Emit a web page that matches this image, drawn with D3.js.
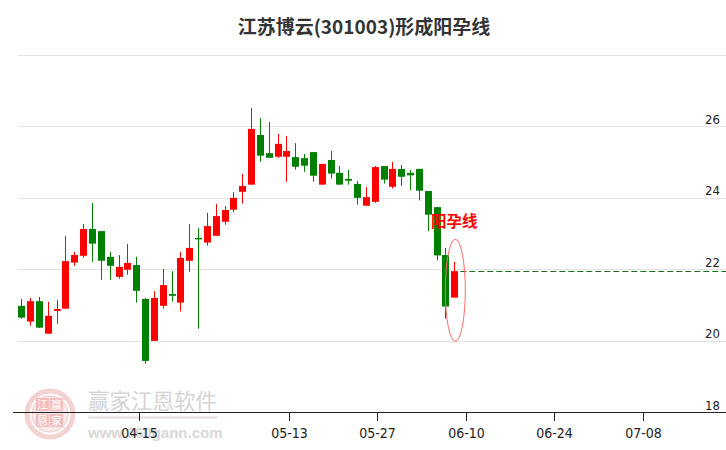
<!DOCTYPE html>
<html>
<head>
<meta charset="utf-8">
<script src="https://cdn.jsdelivr.net/npm/d3@7/dist/d3.min.js"></script>
<style>
html,body{margin:0;padding:0;background:#fff;}
svg{display:block;}
</style>
</head>
<body>
<div id="chart"></div>
<script>
// ---- data ----
const dates = ["03-25","03-26","03-27","03-28","03-29","04-01","04-02","04-03","04-08","04-09",
  "04-10","04-11","04-12","04-15","04-16","04-17","04-18","04-19","04-22","04-23",
  "04-24","04-25","04-26","04-29","04-30","05-06","05-07","05-08","05-09","05-10",
  "05-13","05-14","05-15","05-16","05-17","05-20","05-21","05-22","05-23","05-24",
  "05-27","05-28","05-29","05-30","05-31","06-03","06-04","06-05","06-06","06-07"];
const open  = [20.97,20.53,21.10,20.19,20.83,20.89,22.18,22.37,23.12,23.06,
  22.34,21.78,21.98,22.11,21.16,19.99,20.97,21.30,21.06,22.23,
  22.87,22.74,22.93,23.32,23.66,24.16,24.36,25.75,25.24,25.14,
  25.14,25.13,25.10,25.27,24.36,25.05,24.69,24.52,24.38,23.77,
  23.88,24.88,24.30,24.80,24.69,24.80,24.18,23.73,22.39,21.20];
const close = [20.64,21.10,20.36,20.69,20.88,22.22,22.39,23.12,22.71,22.23,
  22.09,22.06,22.17,21.39,19.43,21.19,21.55,21.25,22.31,22.59,
  22.84,23.20,23.48,23.65,23.99,24.32,25.92,25.17,25.11,25.50,
  25.30,24.86,24.89,24.61,24.94,24.67,24.36,24.47,23.99,24.01,
  24.85,24.50,24.80,24.58,24.62,24.19,23.52,22.38,20.95,21.94];
const high  = [21.16,21.19,21.22,21.08,21.13,22.92,22.48,23.26,23.85,23.06,
  22.48,22.39,22.70,22.34,21.19,21.38,22.00,21.94,22.48,23.26,
  23.15,23.57,23.82,23.76,24.15,24.66,26.50,26.22,26.11,25.78,
  25.72,25.52,25.22,25.27,24.94,25.30,24.88,24.77,24.46,24.29,
  24.88,24.88,24.99,24.91,24.77,24.80,24.18,23.73,22.59,22.20];
const low   = [20.61,20.41,20.35,20.19,20.47,20.89,22.09,22.32,22.20,21.70,
  21.70,21.73,21.84,21.06,19.35,19.99,20.89,21.09,20.81,21.92,
  20.33,22.65,22.93,23.24,23.60,23.83,24.36,25.00,25.11,25.11,
  24.44,24.78,24.72,24.44,24.36,24.53,24.36,24.36,23.80,23.77,
  23.85,24.39,24.25,24.33,24.21,23.92,23.06,22.24,20.61,21.20];
const tickIndex  = [13, 30, 40, 50, 60, 70];
const tickLabels = ["04-15","05-13","05-27","06-10","06-24","07-08"];
const yTicks = [18, 20, 22, 24, 26];
const yGrid  = [20, 22, 24, 26, 28];
const title = "江苏博云(301003)形成阳孕线";
const patternLabel = "阳孕线";
const patternIndex = 49;

// ---- drawing ----
const W = 726, H = 450;
const svg = d3.select("#chart").append("svg").attr("width", W).attr("height", H);

const x = d3.scaleLinear().domain([0, 49]).range([21.3, 454.3]);
const y = d3.scaleLinear().domain([18, 28]).range([412, 54.5]);
const UP = "#ff0000", DOWN = "#008000";

// grid lines
svg.append("g").selectAll("line").data(yGrid).join("line")
  .attr("x1", 18).attr("x2", W)
  .attr("y1", d => Math.round(y(d)) + 0.5).attr("y2", d => Math.round(y(d)) + 0.5)
  .attr("stroke", "#e3e3e3").attr("stroke-width", 1);

// watermark
const wm = svg.append("g");
wm.append("circle").attr("cx", 50).attr("cy", 414).attr("r", 23)
  .attr("fill", "none").attr("stroke", "#f3d2d2").attr("stroke-width", 5);
wm.append("circle").attr("cx", 50).attr("cy", 414).attr("r", 18)
  .attr("fill", "#fbeaea").attr("stroke", "#f0c8c8").attr("stroke-width", 1);
[["江",43,410],["赢",57,410],["恩",43,426],["家",57,426]].forEach(([t,cx,cy]) => {
  wm.append("rect").attr("x", cx-7).attr("y", cy-12).attr("width", 13).attr("height", 13)
    .attr("fill", "#f2bcbc");
  wm.append("text").attr("x", cx-0.5).attr("y", cy-1).attr("text-anchor", "middle")
    .attr("font-family", "Noto Sans CJK SC").attr("font-size", 11).attr("fill", "#fff").text(t);
});
wm.append("text").attr("x", 88).attr("y", 409)
  .attr("font-family", "Noto Sans CJK SC").attr("font-size", 21.5).attr("fill", "#d4d4d4")
  .text("赢家江恩软件");
wm.append("line").attr("x1", 88).attr("x2", 217).attr("y1", 417.5).attr("y2", 417.5)
  .attr("stroke", "#e6dede").attr("stroke-width", 2);
wm.append("text").attr("x", 88).attr("y", 438)
  .attr("font-family", "Liberation Sans, Arial, sans-serif").attr("font-weight", "bold")
  .attr("font-size", 15).attr("fill", "#d8d8d8").text("www.360gann.com");

// y labels
svg.append("g").selectAll("text").data(yTicks).join("text")
  .attr("x", 720).attr("y", d => y(d) - 2.5).attr("text-anchor", "end")
  .attr("font-family", "Liberation Sans Narrow, DejaVu Sans Condensed, sans-serif")
  .attr("font-size", 13).attr("fill", "#222").text(d => d);

// x axis
svg.append("line").attr("x1", 13).attr("x2", W).attr("y1", 412.5).attr("y2", 412.5)
  .attr("stroke", "#222").attr("stroke-width", 1);
const tg = svg.append("g").selectAll("g").data(tickIndex).join("g")
  .attr("transform", d => `translate(${Math.round(x(d + 0.3)) + 0.5},0)`);
tg.append("line").attr("y1", 412).attr("y2", 421).attr("stroke", "#222");
tg.append("text").attr("y", 438).attr("text-anchor", "middle")
  .attr("font-family", "Liberation Sans Narrow, DejaVu Sans Condensed, sans-serif")
  .attr("font-size", 14).attr("fill", "#222")
  .text((d, i) => tickLabels[i]);

// candles
const candles = dates.map((d, i) => ({date: d, i, o: open[i], c: close[i], h: high[i], l: low[i]}));
const cg = svg.append("g").selectAll("g").data(candles).join("g");
cg.append("rect")
  .attr("x", d => Math.round(x(d.i)) )
  .attr("width", 1)
  .attr("y", d => y(d.h))
  .attr("height", d => Math.max(1, y(d.l) - y(d.h)))
  .attr("fill", d => d.c >= d.o ? UP : DOWN);
cg.append("rect")
  .attr("x", d => Math.round(x(d.i)) - 3)
  .attr("width", 7)
  .attr("y", d => y(Math.max(d.o, d.c)))
  .attr("height", d => Math.max(1.5, Math.abs(y(d.o) - y(d.c))))
  .attr("fill", d => d.c >= d.o ? UP : DOWN);

// dashed reference line at last close
const last = candles[candles.length - 1];
svg.append("line")
  .attr("x1", x(last.i) + 6).attr("x2", W)
  .attr("y1", Math.round(y(last.c)) + 0.5).attr("y2", Math.round(y(last.c)) + 0.5)
  .attr("stroke", "#1a6e1a").attr("stroke-width", 1).attr("stroke-dasharray", "6,3");

// pattern ellipse + label
const pc = candles[patternIndex];
svg.append("ellipse")
  .attr("cx", x(pc.i) + 1).attr("cy", (y(pc.h) + y(low[patternIndex - 1])) / 2)
  .attr("rx", 10).attr("ry", 51)
  .attr("fill", "none").attr("stroke", "#ff6a6a").attr("stroke-width", 1);
svg.append("text").attr("x", 431).attr("y", 227)
  .attr("font-family", "Noto Sans CJK SC").attr("font-weight", "bold")
  .attr("font-size", 15.5).attr("fill", "#ff0000").text(patternLabel);

// title
svg.append("text").attr("x", 364).attr("y", 33.5).attr("text-anchor", "middle")
  .attr("font-family", "Noto Sans CJK SC").attr("font-weight", "bold")
  .attr("font-size", 19).attr("fill", "#333").text(title);
</script>
</body>
</html>
